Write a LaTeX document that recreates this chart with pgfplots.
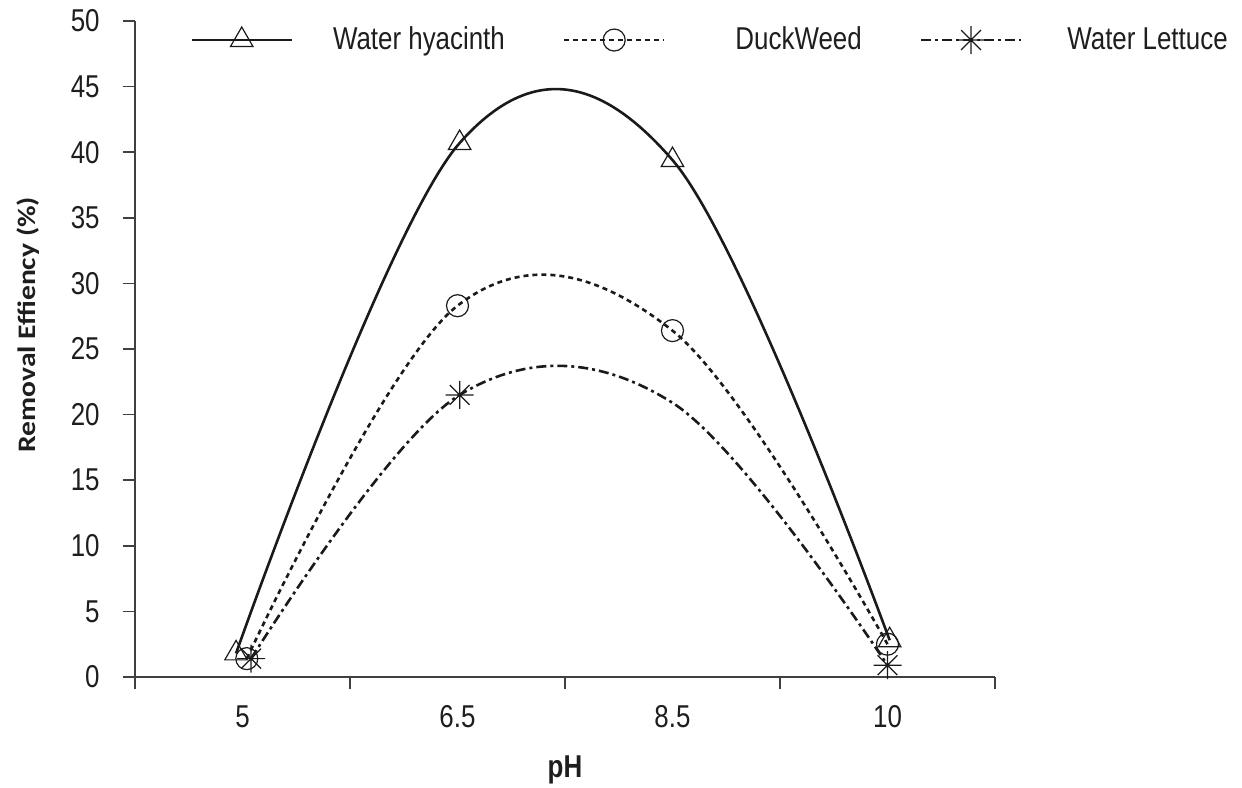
\documentclass[border=0pt]{standalone}
\usepackage{fontspec}
\setmainfont{Liberation Sans}[FakeStretch=0.82]
\newfontfamily\ylabfont{Carlito}
\usepackage{graphicx}
\usepackage{pgfplots}
\pgfplotsset{compat=1.18}
\definecolor{axgray}{HTML}{404040}
\definecolor{txt}{HTML}{1E1E1E}
\definecolor{ln}{HTML}{1A1A1A}

\pgfdeclareplotmark{ast8}{%
  \pgfpathmoveto{\pgfqpoint{-\pgfplotmarksize}{0pt}}%
  \pgfpathlineto{\pgfqpoint{\pgfplotmarksize}{0pt}}%
  \pgfpathmoveto{\pgfqpoint{0pt}{-\pgfplotmarksize}}%
  \pgfpathlineto{\pgfqpoint{0pt}{\pgfplotmarksize}}%
  \pgfpathmoveto{\pgfqpoint{-0.7071\pgfplotmarksize}{-0.7071\pgfplotmarksize}}%
  \pgfpathlineto{\pgfqpoint{0.7071\pgfplotmarksize}{0.7071\pgfplotmarksize}}%
  \pgfpathmoveto{\pgfqpoint{-0.7071\pgfplotmarksize}{0.7071\pgfplotmarksize}}%
  \pgfpathlineto{\pgfqpoint{0.7071\pgfplotmarksize}{-0.7071\pgfplotmarksize}}%
  \pgfusepathqstroke}

\pgfplotsset{
  hy/.style={ln, solid, line width=1.3pt, mark=triangle, mark size=6.5pt,
    mark options={solid, line width=0.6pt, fill=none}},
  dw/.style={ln, dash pattern=on 2.5pt off 2pt, line width=1.3pt, mark=o, mark size=5.5pt,
    mark options={solid, line width=0.6pt, fill=none}},
  lt/.style={ln, dash pattern=on 5pt off 2pt on 1.5pt off 2pt, line width=1.3pt, mark=ast8, mark size=7pt,
    mark options={solid, line width=0.6pt}},
}

\begin{document}
\begin{tikzpicture}
\begin{axis}[
  scale only axis, width=430pt, height=328pt,
  xmin=-0.5, xmax=3.5, ymin=0, ymax=50,
  axis x line*=bottom, axis y line*=left,
  x axis line style={-, axgray, line width=1pt},
  y axis line style={-, axgray, line width=1pt},
  xtick={0,1,2,3}, xticklabels={5,6.5,8.5,10},
  minor xtick={-0.5,0.5,1.5,2.5,3.5},
  ytick={0,5,...,50},
  tick align=outside,
  major tick length=6pt, minor tick length=6pt,
  major x tick style={draw=none},
  minor x tick style={axgray, line width=0.8pt},
  ytick style={axgray, line width=0.8pt},
  /pgf/number format/assume math mode=true,
  ticklabel style={font=\fontsize{15.8}{18}\selectfont, text=txt},
  yticklabel style={anchor=east, inner sep=0pt, xshift=-11.5pt},
  xticklabel style={anchor=center, inner sep=0pt, yshift=-14pt},
  xlabel={\bfseries pH},
  xlabel style={at={(axis description cs:0.5,-0.1418)}, anchor=center,
    font=\fontsize{15.8}{18}\selectfont, text=txt},
  ylabel={\scalebox{1}[0.85]{\ylabfont\bfseries Removal Effiency (\%)}},
  ylabel style={at={(axis description cs:-0.1244,0.537)}, anchor=center, rotate=0,
    font=\fontsize{14.8}{17}\selectfont, text=txt},
  legend columns=3,
  legend style={at={(axis description cs:0.064,0.971)}, anchor=west,
    draw=none, fill=none, inner sep=0pt,
    font=\fontsize{15.8}{18}\selectfont, text=txt,
    /tikz/every odd column/.append style={column sep=18pt},
    /tikz/every even column/.append style={column sep=27pt}},
  legend image code/.code={\draw[mark repeat=2,mark phase=2,#1] plot coordinates {(0pt,0pt) (25pt,0pt) (50pt,0pt)};},
  clip=false,
]
\addlegendimage{hy}
\addlegendimage{dw}
\addlegendimage{lt}
\legend{Water hyacinth, \hspace{15pt}DuckWeed\hspace{2.5pt}, \hspace{2.5pt}Water Lettuce}

% Water hyacinth
\addplot[hy, smooth, tension=0.6, forget plot] coordinates {(-0.03,1.8) (1.01,40.7) (2,39.4) (3.01,2.8)};
% DuckWeed
\addplot[dw, smooth, tension=0.6, forget plot] coordinates {(0.02,1.4) (1,28.3) (2,26.4) (3,2.5)};
% Water Lettuce
\addplot[lt, smooth, tension=0.6, mark indices={1,2,4}, forget plot] coordinates {(0.04,1.4) (1.01,21.5) (2,20.9) (3,0.9)};
\end{axis}
\pgfresetboundingbox
\path[use as bounding box] ([xshift=-67.5pt,yshift=-55pt]current axis.south west) rectangle ([xshift=123.5pt,yshift=10.5pt]current axis.north east);
\end{tikzpicture}
\end{document}
